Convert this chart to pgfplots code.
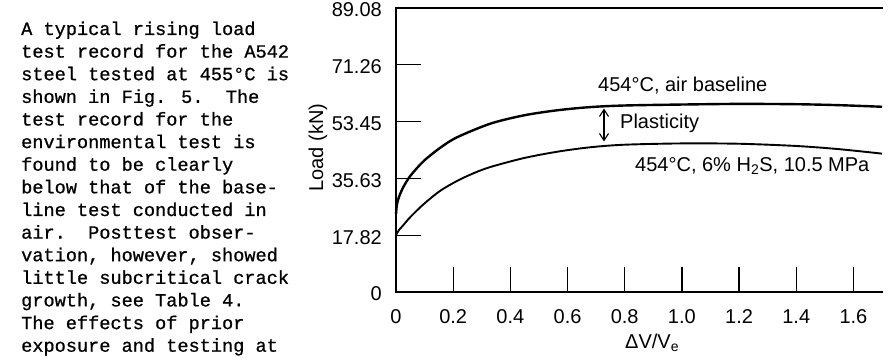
\documentclass[border=0pt]{standalone}
\usepackage{fontspec}
\setmainfont{Liberation Sans}
\newfontfamily\mono[RawFeature={embolden=0.8}]{Liberation Mono}
\usepackage{pgfplots}
\pgfplotsset{compat=1.18}
\usetikzlibrary{arrows.meta}
\newcommand\TL[2]{\node[anchor=base west, inner sep=0pt, font=\mono\fontsize{18.6}{22}\selectfont] at (21,#1) {#2};}
\begin{document}
\begin{tikzpicture}[x=1pt,y=1pt]
\useasboundingbox (0,0) rectangle (894,359);
\begin{axis}[
  at={(396pt,67pt)}, anchor=south west,
  scale only axis, width=486pt, height=284pt,
  xmin=0, xmax=1.7, ymin=0, ymax=89.08,
  axis line style={draw=none},
  clip=false,
  tick align=inside, xtick pos=left, ytick pos=left,
  major tick length=25pt,
  every tick/.style={black, line width=1.3pt},
  xtick={0,0.2,0.4,0.6,0.8,1.0,1.2,1.4,1.6},
  xticklabels={0,0.2,0.4,0.6,0.8,1.0,1.2,1.4,1.6},
  ytick={0,17.82,35.63,53.45,71.26,89.08},
  yticklabels={0,17.82,35.63,53.45,71.26,89.08},
  /pgf/number format/assume math mode=true,
  tick label style={font=\fontsize{20}{24}\selectfont},
  yticklabel style={anchor=east, inner sep=0pt, xshift=-14pt, yshift=-2pt},
  xticklabel style={anchor=north, inner sep=0pt, text height=14.4pt, text depth=0pt, yshift=-17pt},
]
\addplot[black, line width=2.4pt, smooth] coordinates {
(0,24.4) (0.003,27.3) (0.01,29.7) (0.025,32.8) (0.05,36.4) (0.096,41.0)
(0.154,45.2) (0.213,48.5) (0.33,52.8) (0.447,55.4) (0.564,57.0) (0.68,58.0)
(0.8,58.5) (1.0,58.8) (1.2,59.0) (1.4,58.9) (1.55,58.6) (1.7,58.1)};
\addplot[black, line width=1.9pt, smooth] coordinates {
(0,17.8) (0.01,19.4) (0.025,20.9) (0.049,23.4) (0.096,27.5) (0.154,31.7)
(0.213,34.8) (0.27,37.2) (0.33,39.2) (0.447,42.0) (0.564,44.0) (0.68,45.4)
(0.8,46.2) (1.0,46.6) (1.2,46.5) (1.4,45.8) (1.55,44.8) (1.7,43.4)};
\draw[line width=1.4pt, line cap=rect] (rel axis cs:1,1) -- (rel axis cs:0,1) -- (rel axis cs:0,0) -- (rel axis cs:1,0);
\end{axis}
\node[anchor=base west, inner sep=0pt, font=\fontsize{20}{24}\selectfont] at (598,267.3) {454°C, air baseline};
\node[anchor=base west, inner sep=0pt, font=\fontsize{20}{24}\selectfont] at (620,230.7) {Plasticity};
\node[anchor=base west, inner sep=0pt, font=\fontsize{20}{24}\selectfont] at (635,187.3) {454°C, 6\% H\textsubscript{2}S, 10.5 MPa};
\draw[{Straight Barb[length=7pt,width=9pt]}-{Straight Barb[length=7pt,width=9pt]}, line width=1.1pt] (604,250.5) -- (604,217.5);
\node[anchor=base west, inner sep=0pt, font=\fontsize{20}{24}\selectfont] at (625,10.7) {ΔV/V\textsubscript{e}};
\node[anchor=base, inner sep=0pt, rotate=90, font=\fontsize{20}{24}\selectfont] at (323,211.5) {Load (kN)};
\TL{324}{A typical rising load}
\TL{301.4}{test record for the A542}
\TL{278.8}{steel tested at 455°C is}
\TL{256.1}{shown in Fig. 5.\ \ The}
\TL{233.5}{test record for the}
\TL{210.9}{environmental test is}
\TL{188.3}{found to be clearly}
\TL{165.7}{below that of the base-}
\TL{143.0}{line test conducted in}
\TL{120.4}{air.\ \ Posttest obser-}
\TL{97.8}{vation, however, showed}
\TL{75.2}{little subcritical crack}
\TL{52.6}{growth, see Table 4.}
\TL{29.9}{The effects of prior}
\TL{7.3}{exposure and testing at}
\end{tikzpicture}
\end{document}
